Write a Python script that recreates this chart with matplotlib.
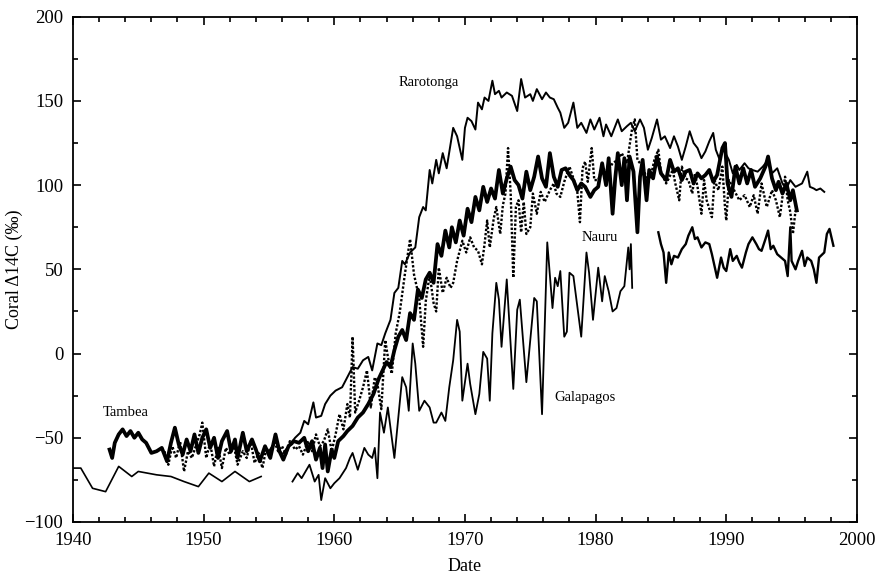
import matplotlib
matplotlib.use("Agg")
from matplotlib import pyplot as plt
from matplotlib.ticker import MultipleLocator

plt.rcParams["font.family"] = ["Liberation Serif", "DejaVu Serif"]

# (year, delta14C) pairs
galapagos_early = [
    (1940.0, -68), (1940.6, -68), (1941.5, -80), (1942.5, -82), (1943.5, -67),
    (1944.5, -73), (1945.0, -70), (1946.4, -72), (1947.5, -73), (1948.5, -76),
    (1949.6, -79), (1950.4, -71), (1951.4, -76), (1952.4, -70), (1953.5, -76),
    (1954.4, -73),
]

galapagos = [
    (1956.8, -76), (1957.2, -71), (1957.5, -74), (1957.8, -70), (1958.1, -66),
    (1958.5, -76), (1958.8, -72), (1959.0, -87), (1959.3, -74), (1959.7, -80),
    (1960.0, -77), (1960.4, -74), (1960.9, -68), (1961.2, -62), (1961.4, -59),
    (1961.8, -69), (1962.3, -56), (1962.6, -60), (1962.9, -62), (1963.1, -56),
    (1963.3, -74), (1963.5, -35), (1963.8, -47), (1964.1, -32), (1964.6, -62),
    (1965.2, -14), (1965.5, -20), (1965.7, -34), (1966.0, 6), (1966.2, -6),
    (1966.5, -34), (1966.9, -28), (1967.3, -32), (1967.6, -41), (1967.8, -41),
    (1968.2, -35), (1968.5, -40), (1968.8, -20), (1969.1, -4), (1969.4, 20),
    (1969.6, 13), (1969.8, -28), (1970.2, -6), (1970.4, -18), (1970.8, -36),
    (1971.1, -24), (1971.4, 1), (1971.7, -3), (1971.9, -28), (1972.1, 12),
    (1972.4, 42), (1972.6, 32), (1972.8, 4), (1973.2, 44), (1973.7, -21),
    (1974.0, 26), (1974.2, 32), (1974.7, -17), (1975.3, 33), (1975.5, 31),
    (1975.9, -36), (1976.3, 66), (1976.7, 27), (1976.9, 45), (1977.1, 40),
    (1977.3, 49), (1977.6, 10), (1977.8, 13), (1978.0, 48), (1978.3, 46),
    (1978.9, 10), (1979.3, 60), (1979.5, 48), (1979.8, 20), (1980.2, 51),
    (1980.5, 31), (1980.7, 46), (1981.0, 37), (1981.3, 25), (1981.6, 27),
    (1981.9, 37), (1982.2, 40), (1982.5, 63), (1982.6, 50), (1982.7, 65),
    (1982.8, 39),
]

galapagos_late = [
    (1984.8, 72), (1985.0, 65), (1985.2, 60), (1985.4, 42), (1985.6, 60),
    (1985.8, 53), (1986.0, 58), (1986.3, 57), (1986.6, 62), (1986.9, 65),
    (1987.1, 70), (1987.4, 75), (1987.6, 68), (1987.8, 69), (1988.1, 63),
    (1988.4, 66), (1988.7, 65), (1988.9, 59), (1989.1, 52), (1989.3, 45),
    (1989.6, 57), (1989.8, 51), (1990.0, 49), (1990.3, 62), (1990.5, 55),
    (1990.8, 58), (1991.0, 54), (1991.2, 51), (1991.5, 60), (1991.7, 65),
    (1992.0, 69), (1992.3, 65), (1992.5, 62), (1992.7, 61), (1993.0, 68),
    (1993.2, 73), (1993.4, 62), (1993.6, 64), (1993.9, 59), (1994.2, 57),
    (1994.5, 55), (1994.7, 46), (1994.9, 75), (1995.0, 55), (1995.3, 50),
    (1995.5, 55), (1995.8, 61), (1996.0, 52), (1996.2, 57), (1996.5, 55),
    (1996.7, 50), (1996.9, 42), (1997.1, 57), (1997.5, 60), (1997.7, 71),
    (1997.9, 74), (1998.2, 64),
]

rarotonga = [
    (1955.0, -58), (1955.5, -52), (1956.0, -60), (1956.5, -55), (1957.0, -50),
    (1957.4, -47), (1957.7, -40), (1958.0, -42), (1958.4, -29), (1958.6, -38),
    (1959.0, -37), (1959.3, -30), (1959.7, -25), (1960.1, -22), (1960.6, -20),
    (1961.0, -14), (1961.4, -8), (1961.8, -9), (1962.2, -4), (1962.6, -2),
    (1962.9, -10), (1963.3, 6), (1963.6, 5), (1963.9, 12), (1964.3, 20),
    (1964.6, 36), (1964.9, 39), (1965.2, 55), (1965.4, 53), (1965.8, 60),
    (1966.2, 63), (1966.5, 81), (1966.8, 87), (1967.0, 85), (1967.3, 109),
    (1967.5, 101), (1967.8, 115), (1968.0, 107), (1968.3, 119), (1968.6, 110),
    (1969.1, 134), (1969.4, 129), (1969.8, 115), (1970.0, 134), (1970.2, 140),
    (1970.5, 138), (1970.8, 133), (1971.0, 149), (1971.3, 145), (1971.5, 152),
    (1971.8, 150), (1972.1, 162), (1972.3, 154), (1972.6, 156), (1972.8, 152),
    (1973.2, 155), (1973.6, 153), (1974.0, 144), (1974.3, 163), (1974.6, 152),
    (1975.0, 154), (1975.2, 150), (1975.5, 157), (1975.9, 151), (1976.2, 155),
    (1976.5, 152), (1976.8, 151), (1977.1, 146), (1977.3, 143), (1977.6, 134),
    (1977.9, 137), (1978.3, 149), (1978.6, 134), (1978.9, 137), (1979.3, 131),
    (1979.6, 139), (1979.9, 133), (1980.3, 140), (1980.6, 129), (1980.8, 136),
    (1981.2, 129), (1981.7, 139), (1982.0, 132), (1982.4, 135), (1982.7, 137),
    (1983.0, 132), (1983.4, 139), (1983.7, 134), (1984.0, 121), (1984.3, 128),
    (1984.7, 139), (1985.0, 127), (1985.3, 129), (1985.7, 122), (1986.0, 129),
    (1986.3, 123), (1986.6, 115), (1986.9, 123), (1987.2, 132), (1987.5, 125),
    (1987.8, 122), (1988.1, 116), (1988.4, 120), (1988.7, 126), (1989.0, 131),
    (1989.2, 121), (1989.5, 115), (1989.7, 122), (1990.0, 118), (1990.2, 115),
    (1990.5, 107), (1990.8, 112), (1991.0, 109), (1991.4, 113), (1991.7, 110),
    (1992.0, 109), (1992.4, 108), (1992.8, 111), (1993.2, 115), (1993.5, 107),
    (1993.9, 110), (1994.3, 101), (1994.6, 98), (1994.9, 103), (1995.3, 99),
    (1995.8, 101), (1996.2, 108), (1996.4, 99), (1996.7, 98), (1996.9, 97),
    (1997.2, 98), (1997.5, 96),
]

# thick record: Tambea, continuing as Nauru
tambea_nauru = [
    (1942.8, -57), (1943.0, -62), (1943.2, -53), (1943.5, -48), (1943.8, -45),
    (1944.1, -49), (1944.4, -46), (1944.7, -50), (1945.0, -47), (1945.3, -51),
    (1945.6, -53), (1946.0, -59), (1946.4, -58), (1946.8, -56), (1947.2, -64),
    (1947.5, -53), (1947.8, -44), (1948.1, -54), (1948.4, -60), (1948.7, -51),
    (1949.0, -58), (1949.3, -48), (1949.6, -59), (1949.9, -50), (1950.2, -45),
    (1950.5, -56), (1950.8, -50), (1951.1, -62), (1951.4, -52), (1951.8, -46),
    (1952.1, -58), (1952.4, -51), (1952.6, -62), (1953.0, -47), (1953.3, -58),
    (1953.7, -51), (1954.0, -57), (1954.3, -64), (1954.7, -55), (1955.1, -62),
    (1955.5, -48), (1955.8, -58), (1956.1, -63), (1956.5, -55), (1956.9, -52),
    (1957.3, -53), (1957.7, -50), (1958.0, -58), (1958.3, -52), (1958.6, -63),
    (1958.9, -56), (1959.1, -68), (1959.3, -54), (1959.5, -70), (1959.8, -57),
    (1960.0, -62), (1960.3, -52), (1960.7, -49), (1961.0, -46), (1961.4, -43),
    (1961.8, -38), (1962.2, -35), (1962.6, -30), (1963.0, -24), (1963.4, -15),
    (1963.7, -10), (1964.0, -5), (1964.3, -8), (1964.6, 2), (1964.9, 10),
    (1965.2, 14), (1965.5, 8), (1965.8, 24), (1966.1, 20), (1966.4, 38),
    (1966.7, 33), (1967.0, 44), (1967.3, 48), (1967.6, 42), (1967.9, 65),
    (1968.2, 58), (1968.5, 73), (1968.8, 63), (1969.0, 75), (1969.3, 66),
    (1969.6, 79), (1969.9, 70), (1970.2, 86), (1970.5, 78), (1970.8, 93),
    (1971.1, 85), (1971.4, 99), (1971.7, 90), (1972.0, 98), (1972.3, 92),
    (1972.6, 109), (1972.9, 95), (1973.2, 104), (1973.5, 111), (1973.8, 103),
    (1974.1, 100), (1974.4, 92), (1974.7, 108), (1975.0, 97), (1975.3, 105),
    (1975.6, 117), (1975.9, 104), (1976.2, 99), (1976.5, 119), (1976.8, 105),
    (1977.1, 99), (1977.4, 109), (1977.7, 110), (1978.0, 106), (1978.3, 103),
    (1978.6, 97), (1978.9, 101), (1979.2, 99), (1979.6, 93), (1979.9, 97),
    (1980.2, 99), (1980.5, 113), (1980.8, 100), (1981.0, 116), (1981.3, 83),
    (1981.5, 104), (1981.7, 119), (1982.0, 100), (1982.2, 116), (1982.4, 91),
    (1982.6, 117), (1982.9, 108), (1983.2, 72), (1983.4, 105), (1983.6, 115),
    (1983.9, 91), (1984.1, 109), (1984.4, 104), (1984.7, 117), (1985.0, 107),
    (1985.4, 103), (1985.7, 115), (1986.0, 108), (1986.3, 110), (1986.6, 103),
    (1986.9, 108), (1987.2, 109), (1987.5, 101), (1987.8, 107), (1988.1, 104),
    (1988.4, 106), (1988.7, 109), (1989.0, 102), (1989.3, 106), (1989.7, 122),
    (1989.9, 125), (1990.1, 101), (1990.4, 93), (1990.7, 111), (1991.0, 101),
    (1991.3, 110), (1991.6, 101), (1991.9, 109), (1992.2, 99), (1992.6, 104),
    (1993.0, 111), (1993.2, 117), (1993.5, 104), (1993.8, 97), (1994.0, 102),
    (1994.3, 95), (1994.6, 101), (1994.9, 91), (1995.1, 97), (1995.4, 85),
]

dotted = [
    (1947.0, -58), (1947.3, -66), (1947.6, -55), (1947.9, -62), (1948.2, -52),
    (1948.5, -70), (1948.8, -58), (1949.1, -62), (1949.4, -55), (1949.7, -48),
    (1949.9, -41), (1950.2, -62), (1950.5, -53), (1950.8, -67), (1951.1, -55),
    (1951.4, -68), (1951.7, -56), (1952.0, -60), (1952.3, -54), (1952.6, -66),
    (1953.0, -58), (1953.3, -62), (1953.6, -52), (1953.9, -65), (1954.2, -59),
    (1954.5, -68), (1954.8, -56), (1955.1, -60), (1955.4, -52), (1955.7, -58),
    (1956.0, -55), (1956.3, -60), (1956.6, -52), (1957.0, -57), (1957.3, -55),
    (1957.6, -60), (1958.0, -52), (1958.3, -58), (1958.6, -48), (1958.9, -55),
    (1959.2, -52), (1959.5, -45), (1959.8, -58), (1960.1, -48), (1960.4, -36),
    (1960.7, -45), (1961.0, -30), (1961.2, -38), (1961.4, 10), (1961.6, -35),
    (1961.9, -28), (1962.2, -20), (1962.5, -10), (1962.8, -32), (1963.1, -14),
    (1963.3, -18), (1963.6, -33), (1963.9, 8), (1964.1, -2), (1964.4, -12),
    (1964.7, 12), (1965.0, 24), (1965.4, 47), (1965.8, 68), (1966.1, 47),
    (1966.5, 33), (1966.8, 4), (1967.0, 31), (1967.3, 47), (1967.6, 30),
    (1967.8, 25), (1968.0, 51), (1968.3, 36), (1968.6, 45), (1968.9, 39),
    (1969.1, 42), (1969.4, 55), (1969.8, 67), (1970.1, 60), (1970.4, 69),
    (1970.7, 63), (1971.0, 61), (1971.3, 53), (1971.5, 65), (1971.7, 79),
    (1971.9, 63), (1972.2, 80), (1972.4, 87), (1972.7, 71), (1972.9, 88),
    (1973.1, 95), (1973.3, 122), (1973.5, 95), (1973.7, 45), (1973.9, 87),
    (1974.1, 91), (1974.3, 72), (1974.5, 90), (1974.7, 71), (1975.0, 75),
    (1975.2, 95), (1975.5, 83), (1975.8, 96), (1976.1, 90), (1976.5, 97),
    (1976.8, 101), (1977.0, 95), (1977.3, 93), (1977.6, 102), (1978.0, 111),
    (1978.3, 104), (1978.6, 96), (1978.8, 78), (1979.0, 110), (1979.2, 114),
    (1979.4, 102), (1979.7, 122), (1979.9, 103), (1980.2, 103), (1980.5, 110),
    (1980.9, 108), (1981.3, 113), (1981.7, 115), (1982.0, 119), (1982.4, 113),
    (1982.8, 134), (1983.0, 139), (1983.2, 115), (1983.4, 113), (1983.7, 109),
    (1984.0, 101), (1984.3, 108), (1984.5, 115), (1984.8, 121), (1985.0, 108),
    (1985.4, 101), (1985.6, 104), (1985.9, 109), (1986.1, 101), (1986.4, 91),
    (1986.6, 111), (1986.9, 104), (1987.1, 103), (1987.4, 95), (1987.6, 107),
    (1987.8, 99), (1988.1, 83), (1988.3, 103), (1988.5, 91), (1988.9, 81),
    (1989.1, 103), (1989.4, 97), (1989.7, 111), (1989.9, 87), (1990.0, 79),
    (1990.2, 103), (1990.6, 97), (1991.0, 91), (1991.4, 94), (1991.8, 87),
    (1992.1, 94), (1992.4, 83), (1992.7, 101), (1993.1, 87), (1993.5, 97),
    (1993.8, 91), (1994.1, 81), (1994.5, 105), (1994.7, 91), (1994.9, 84),
    (1995.1, 71), (1995.3, 85),
]

labels = [("Rarotonga", 1967.2, 161), ("Nauru", 1980.3, 69),
          ("Galapagos", 1979.2, -26), ("Tambea", 1944.0, -35)]


def xy(series):
    return [p[0] for p in series], [p[1] for p in series]


fig = plt.figure(figsize=(8.78, 5.84), dpi=100)
ax = fig.add_axes([0.0831, 0.1062, 0.8929, 0.8652])

ax.plot(*xy(galapagos_early), color="black", lw=1.2)
ax.plot(*xy(galapagos), color="black", lw=1.3)
ax.plot(*xy(galapagos_late), color="black", lw=1.7)
ax.plot(*xy(dotted), color="black", lw=1.7, linestyle=(0, (1, 0.8)))
ax.plot(*xy(tambea_nauru), color="black", lw=2.7)
ax.plot(*xy(rarotonga), color="black", lw=1.4)

for text, x, y in labels:
    ax.text(x, y, text, fontsize=10.5, ha="center", va="center")

ax.set_xlim(1940, 2000)
ax.set_ylim(-100, 200)
ax.xaxis.set_major_locator(MultipleLocator(10))
ax.xaxis.set_minor_locator(MultipleLocator(2))
ax.yaxis.set_major_locator(MultipleLocator(50))
ax.yaxis.set_minor_locator(MultipleLocator(25))
ax.tick_params(which="both", direction="in", top=True, right=True,
               labelsize=13.5, width=1.2)
ax.tick_params(which="major", length=6, pad=7)
ax.tick_params(which="minor", length=3.5)
for s in ax.spines.values():
    s.set_linewidth(1.3)

ax.set_xlabel("Date", fontsize=13, labelpad=7)
ax.set_ylabel("Coral \u039414C (\u2030)", fontsize=13, labelpad=1)

fig.savefig("out.png", dpi=100)
